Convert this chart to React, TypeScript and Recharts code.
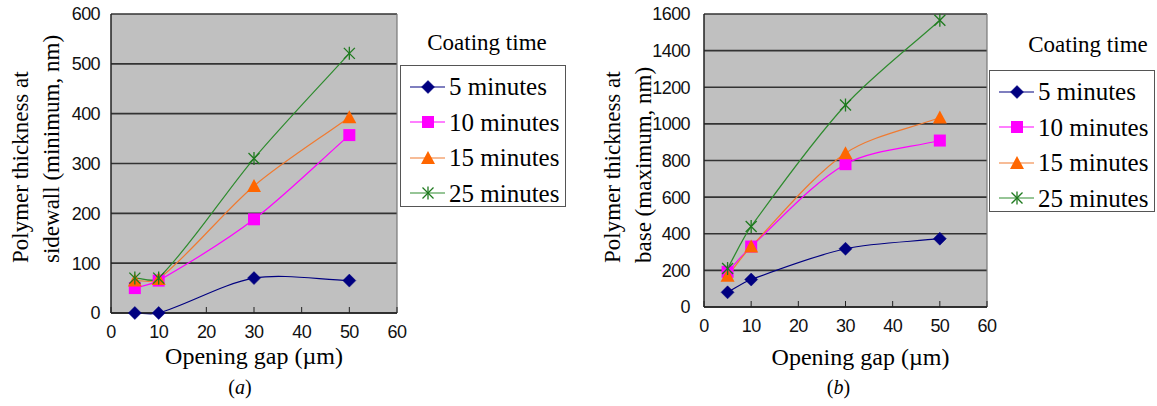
import React from 'react';
import { LineChart, Line, XAxis, YAxis, CartesianGrid, Legend, Label, ReferenceLine } from 'recharts';

// ---- data ----
const gaps = [5, 10, 30, 50];
const seriesNames = ['5 minutes', '10 minutes', '15 minutes', '25 minutes'];
const seriesKeys = ['m5', 'm10', 'm15', 'm25'];
const sidewall5 = [0, 0, 70, 65];
const sidewall10 = [50, 65, 188, 357];
const sidewall15 = [65, 68, 255, 393];
const sidewall25 = [70, 70, 310, 521];
const base5 = [80, 150, 318, 373];
const base10 = [192, 330, 780, 909];
const base15 = [170, 330, 840, 1035];
const base25 = [210, 440, 1103, 1566];
const xTicks = [0, 10, 20, 30, 40, 50, 60];
const sidewallTicks = [0, 100, 200, 300, 400, 500, 600];
const baseTicks = [0, 200, 400, 600, 800, 1000, 1200, 1400, 1600];

const sidewallData = gaps.map((g, i) => ({ gap: g, m5: sidewall5[i], m10: sidewall10[i], m15: sidewall15[i], m25: sidewall25[i] }));
const baseData = gaps.map((g, i) => ({ gap: g, m5: base5[i], m10: base10[i], m15: base15[i], m25: base25[i] }));

const lineColors = ['#000080', '#ff00ff', '#f07a30', '#2e8b2e'];
const markerColors = ['#000080', '#ff00ff', '#ff6600', '#1f7a1f'];
const SERIF = '"Liberation Serif", "Times New Roman", serif';
const TICKFONT = '"Liberation Sans", Arial, sans-serif';

// Excel-like smoothed curve: tangent along neighbour chord, handle length proportional to segment length
const smoothCurve: any = (context: any) => {
  let pts: number[][] = [];
  const k = 0.3;
  const tangent = (i: number) => {
    const a = pts[i - 1] || pts[i];
    const b = pts[i + 1] || pts[i];
    const dx = b[0] - a[0];
    const dy = b[1] - a[1];
    const len = Math.hypot(dx, dy) || 1;
    return [dx / len, dy / len];
  };
  return {
    areaStart() {},
    areaEnd() {},
    lineStart() { pts = []; },
    lineEnd() {
      if (!pts.length) return;
      context.moveTo(pts[0][0], pts[0][1]);
      for (let i = 0; i < pts.length - 1; i++) {
        const p1 = pts[i];
        const p2 = pts[i + 1];
        const seg = Math.hypot(p2[0] - p1[0], p2[1] - p1[1]);
        const t1 = tangent(i);
        const t2 = tangent(i + 1);
        context.bezierCurveTo(
          p1[0] + t1[0] * seg * k, p1[1] + t1[1] * seg * k,
          p2[0] - t2[0] * seg * k, p2[1] - t2[1] * seg * k,
          p2[0], p2[1]
        );
      }
    },
    point(x: number, y: number) { pts.push([+x, +y]); },
  };
};

function Marker({ kind, cx, cy }: { kind: number; cx: number; cy: number }) {
  const c = markerColors[kind];
  if (kind === 0) {
    const s = 6.5;
    return <polygon points={`${cx},${cy - s} ${cx + s},${cy} ${cx},${cy + s} ${cx - s},${cy}`} fill={c} stroke={c} strokeWidth={0.5} />;
  }
  if (kind === 1) {
    const s = 6;
    return <rect x={cx - s} y={cy - s} width={2 * s} height={2 * s} fill={c} />;
  }
  if (kind === 2) {
    return <polygon points={`${cx},${cy - 7} ${cx + 7},${cy + 6} ${cx - 7},${cy + 6}`} fill={c} />;
  }
  const s = 5.5;
  return (
    <g stroke={c} strokeWidth={1.3}>
      <line x1={cx} y1={cy - s - 1} x2={cx} y2={cy + s + 1} />
      <line x1={cx - s} y1={cy - s} x2={cx + s} y2={cy + s} />
      <line x1={cx - s} y1={cy + s} x2={cx + s} y2={cy - s} />
    </g>
  );
}

function LegendBox({ payload, boxTop, titleShift }: any) {
  const items = ([...(payload || [])] as any[]).sort(
    (a, b) => seriesKeys.indexOf(a.dataKey) - seriesKeys.indexOf(b.dataKey)
  );
  return (
    <div style={{ fontFamily: SERIF, color: '#000' }}>
      <div style={{ height: boxTop, lineHeight: `${boxTop}px`, fontSize: 23, textAlign: 'center', paddingLeft: titleShift, whiteSpace: 'nowrap' }}>Coating time</div>
      <div style={{ border: '1px solid #555', boxSizing: 'border-box', height: 142, paddingTop: 3, background: '#fff' }}>
        {items.map((p: any, i: number) => {
          const k = seriesKeys.indexOf(p.dataKey);
          return (
            <div key={i} style={{ display: 'flex', alignItems: 'center', height: 35.5 }}>
              <svg width={48} height={20} style={{ flex: 'none' }}>
                <line x1={9} y1={10} x2={44} y2={10} stroke={lineColors[k]} strokeWidth={1.2} />
                <Marker kind={k} cx={27} cy={10} />
              </svg>
              <span style={{ fontSize: 25, whiteSpace: 'nowrap', lineHeight: '25px' }}>{p.value}</span>
            </div>
          );
        })}
      </div>
    </div>
  );
}

function Panel(props: {
  data: any[]; yTicks: number[]; yMax: number; width: number; left: number;
  plotLeft: number; plotRight: number; plotBottom: number; yTickGap: number;
  legendLeft: number; legendTop: number; boxTop: number; titleShift: number;
  yLines: string[]; yLineX: number[]; yStart: number;
  titleDx: number; titleDy: number; caption: string; capDx: number; capDy: number;
}) {
  const p = props;
  const tickStyle = { fill: '#111', fontSize: 18, fontFamily: TICKFONT, letterSpacing: -0.6 };
  return (
    <div style={{ position: 'absolute', left: p.left, top: 0 }}>
      <LineChart width={p.width} height={406} data={p.data}
        margin={{ top: 14, right: p.width - p.plotRight, bottom: 0, left: 0 }}>
        <CartesianGrid fill="#c0c0c0" fillOpacity={1} horizontal vertical={false} stroke="#333" strokeWidth={1.6} />
        <XAxis dataKey="gap" type="number" domain={[0, 60]} ticks={xTicks} interval={0}
          height={406 - p.plotBottom} axisLine={{ stroke: '#222', strokeWidth: 1.5 }}
          tickLine={{ stroke: '#222' }} tickSize={-6} tickMargin={18}
          tick={tickStyle}>
          <Label content={(lp: any) => {
            const vb = lp.viewBox || {};
            const cx = vb.x + vb.width / 2;
            return (
              <g fontFamily={SERIF} fill="#000">
                <text x={cx + p.titleDx} y={vb.y + p.titleDy} textAnchor="middle" fontSize={24}>Opening gap (µm)</text>
                <text x={cx + p.capDx} y={vb.y + p.capDy} textAnchor="middle" fontSize={20}>(<tspan fontStyle="italic">{p.caption}</tspan>)</text>
              </g>
            );
          }} />
        </XAxis>
        <YAxis type="number" domain={[0, p.yMax]} ticks={p.yTicks} interval={0} width={p.plotLeft}
          axisLine={{ stroke: '#222', strokeWidth: 1.5 }} tickLine={false} tickSize={0} tickMargin={p.yTickGap}
          tick={tickStyle}>
          <Label content={() => (
            <g fontFamily={SERIF} fill="#000" fontSize={23}>
              {p.yLines.map((t, i) => (
                <text key={i} x={p.yLineX[i]} y={p.yStart} transform={`rotate(-90 ${p.yLineX[i]} ${p.yStart})`} textAnchor="start" dominantBaseline="central">{t}</text>
              ))}
            </g>
          )} />
        </YAxis>
        <ReferenceLine x={60} stroke="#777" strokeWidth={1.2} />
        <Legend layout="horizontal" verticalAlign="middle" align="center"
          wrapperStyle={{ position: 'absolute', left: p.legendLeft, top: p.legendTop, width: 166, height: 'auto' }}
          content={(lp: any) => <LegendBox payload={lp.payload} boxTop={p.boxTop} titleShift={p.titleShift} />} />
        {seriesKeys.map((k, i) => (
          <Line key={k} dataKey={k} name={seriesNames[i]} type={smoothCurve} stroke={lineColors[i]} strokeWidth={1.2}
            isAnimationActive={false} activeDot={false}
            dot={(dp: any) => <Marker key={`${k}-${dp.index}`} kind={i} cx={dp.cx} cy={dp.cy} />} />
        ))}
      </LineChart>
    </div>
  );
}

export default function App() {
  return (
    <div style={{ position: 'fixed', left: 0, top: 0, width: 1157, height: 406, background: '#fff', overflow: 'hidden' }}>
      <Panel data={sidewallData} yTicks={sidewallTicks} yMax={600} width={580} left={0}
        plotLeft={111} plotRight={397} plotBottom={313} yTickGap={11}
        legendLeft={400} legendTop={20} boxTop={45} titleShift={8}
        yLines={['Polymer thickness at', 'sidewall (minimum, nm)']} yLineX={[20, 51]} yStart={263}
        titleDx={0} titleDy={51} caption="a" capDx={-14} capDy={81} />
      <Panel data={baseData} yTicks={baseTicks} yMax={1600} width={577} left={580}
        plotLeft={124} plotRight={407} plotBottom={307} yTickGap={14}
        legendLeft={409} legendTop={20} boxTop={50} titleShift={32}
        yLines={['Polymer thickness at', 'base (maximum, nm)']} yLineX={[32, 63]} yStart={263}
        titleDx={15} titleDy={58} caption="b" capDx={-7} capDy={87} />
    </div>
  );
}
